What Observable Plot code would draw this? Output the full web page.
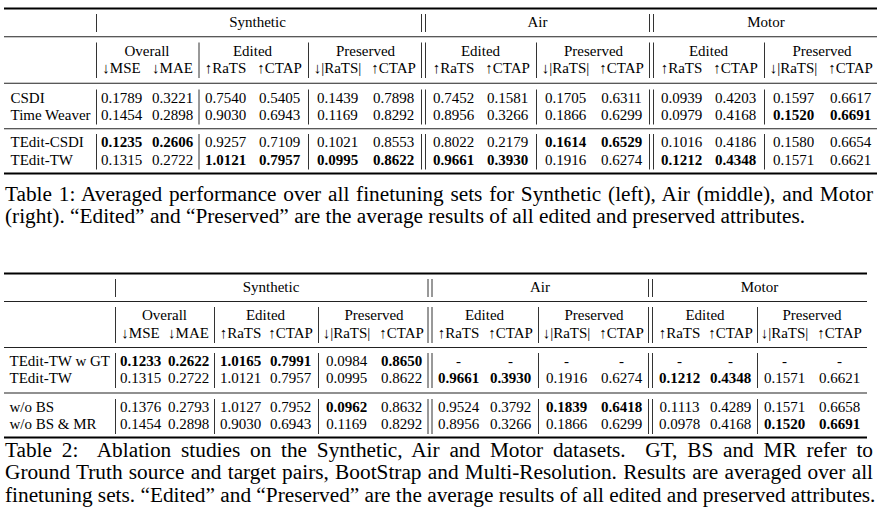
<!DOCTYPE html>
<html>
<head>
<meta charset="utf-8">
<script src="https://cdn.jsdelivr.net/npm/d3@7"></script>
<script src="https://cdn.jsdelivr.net/npm/@observablehq/plot@0.6"></script>
<style>
  html, body { margin: 0; padding: 0; background: #fff; }
  #page { position: relative; width: 881px; height: 513px; overflow: hidden; background: #fff;
          font-family: 'Liberation Serif', 'Times New Roman', serif; color: #000; }
  .tbl { position: absolute; left: 0; }
  .cap { position: absolute; left: 5px; font-size: 21.3px; line-height: 22px; height: 22px; white-space: pre; }
</style>
</head>
<body>
<div id="page"></div>
<script>
// ===================== DATA =====================
const datasets = ["Synthetic", "Air", "Motor"];
const groupsByDataset = [["Overall", "Edited", "Preserved"], ["Edited", "Preserved"], ["Edited", "Preserved"]];
const metricsOverall = ["↓MSE", "↓MAE"];
const metricsEdited = ["↑RaTS", "↑CTAP"];
const metricsPreserved = ["↓|RaTS|", "↑CTAP"];

const t1Methods = ["CSDI", "Time Weaver", "TEdit-CSDI", "TEdit-TW"];
const t1BlockSizes = [2, 2];
const t1CSDI       = [0.1789, 0.3221, 0.7540, 0.5405, 0.1439, 0.7898, 0.7452, 0.1581, 0.1705, 0.6311, 0.0939, 0.4203, 0.1597, 0.6617];
const t1TimeWeaver = [0.1454, 0.2898, 0.9030, 0.6943, 0.1169, 0.8292, 0.8956, 0.3266, 0.1866, 0.6299, 0.0979, 0.4168, 0.1520, 0.6691];
const t1TEditCSDI  = [0.1235, 0.2606, 0.9257, 0.7109, 0.1021, 0.8553, 0.8022, 0.2179, 0.1614, 0.6529, 0.1016, 0.4186, 0.1580, 0.6654];
const t1TEditTW    = [0.1315, 0.2722, 1.0121, 0.7957, 0.0995, 0.8622, 0.9661, 0.3930, 0.1916, 0.6274, 0.1212, 0.4348, 0.1571, 0.6621];

const t2Methods = ["TEdit-TW w GT", "TEdit-TW", "w/o BS", "w/o BS & MR"];
const t2BlockSizes = [2, 2];
const t2WithGT   = [0.1233, 0.2622, 1.0165, 0.7991, 0.0984, 0.8650, null, null, null, null, null, null, null, null];
const t2TEditTW  = [0.1315, 0.2722, 1.0121, 0.7957, 0.0995, 0.8622, 0.9661, 0.3930, 0.1916, 0.6274, 0.1212, 0.4348, 0.1571, 0.6621];
const t2NoBS     = [0.1376, 0.2793, 1.0127, 0.7952, 0.0962, 0.8632, 0.9524, 0.3792, 0.1839, 0.6418, 0.1113, 0.4289, 0.1571, 0.6658];
const t2NoBSMR   = [0.1454, 0.2898, 0.9030, 0.6943, 0.1169, 0.8292, 0.8956, 0.3266, 0.1866, 0.6299, 0.0978, 0.4168, 0.1520, 0.6691];

const caption1 = [
  "Table 1: Averaged performance over all finetuning sets for Synthetic (left), Air (middle), and Motor",
  "(right). “Edited” and “Preserved” are the average results of all edited and preserved attributes."
];
const caption2 = [
  "Table 2:  Ablation studies on the Synthetic, Air and Motor datasets.  GT, BS and MR refer to",
  "Ground Truth source and target pairs, BootStrap and Multi-Resolution. Results are averaged over all",
  "finetuning sets. “Edited” and “Preserved” are the average results of all edited and preserved attributes."
];

// ===================== LAYOUT (scale ranges) =====================
const xDomain = [-1, -0.5, 0, 1, 2, 3, 4, 5, 6, 7, 8, 9, 10, 11, 12, 13];
const t1XRange = [10, 96, 121, 172, 225, 279, 337, 393, 453, 507, 565, 621, 681, 735, 793, 850];
const t2XRange = [9, 115, 140, 188, 240, 290, 346, 401, 458, 510, 566, 621, 679, 730, 784, 839];
const yDomain = [-0.5, 0, 1, 2, 3, 4, 5, 6, 6.5];
const t1YRange = [8, 22, 50.5, 68, 97.5, 114.5, 142, 159.5, 173];
const t2YRange = [8, 22, 50, 68, 96, 113, 142, 159, 172];
const t2Top = 265;
const captionWidth = 868;
const caption1Baselines = [201, 223];
const caption2Baselines = [457, 479, 502];

// ===================== BUILD =====================
const metricsOf = {Overall: metricsOverall, Edited: metricsEdited, Preserved: metricsPreserved};
const columns = [];
datasets.forEach((ds, di) => groupsByDataset[di].forEach(g => metricsOf[g].forEach(m => {
  columns.push({dataset: ds, group: g, metric: m, better: m.startsWith("↓") ? "min" : "max"});
})));

function buildTable({methods, rows, blockSizes, xRange, yRange, marginRight}) {
  const xs = d3.scaleLinear(xDomain, xRange);
  const midIndex = (a, b) => xs.invert((xs(a) + xs(b)) / 2);
  const dsTitles = datasets.map(ds => {
    const idx = columns.map((c, i) => c.dataset === ds ? i : -1).filter(i => i >= 0);
    return {text: ds, x: midIndex(idx[0], idx[idx.length - 1]), y: 0};
  });
  const grpTitles = [];
  columns.forEach((c, i) => {
    if (i === 0 || columns[i - 1].group !== c.group || columns[i - 1].dataset !== c.dataset) {
      let j = i; while (j + 1 < columns.length && columns[j + 1].group === c.group && columns[j + 1].dataset === c.dataset) j++;
      grpTitles.push({text: c.group, x: midIndex(i, j), y: 1});
    }
  });
  const metricTexts = columns.map((c, i) => ({text: c.metric, x: i, y: 2}));
  const best = columns.map((c, ci) => {
    const vals = rows.map(r => r[ci]).filter(v => v != null);
    return c.better === "min" ? d3.min(vals) : d3.max(vals);
  });
  const cells = [];
  rows.forEach((r, ri) => r.forEach((v, ci) => {
    cells.push({x: ci, y: 3 + ri, text: v == null ? "-" : v.toFixed(4), bold: v != null && v === best[ci]});
  }));
  const labels = methods.map((m, ri) => ({text: m, x: -1, y: 3 + ri}));
  const blocks = [[0, 0], [1, 2]];
  let start = 3;
  blockSizes.forEach(n => { blocks.push([start, start + n - 1]); start += n; });
  const midRules = blocks.slice(0, -1).map(b => b[1] + 0.5);
  const outerRules = [blocks[0][0] - 0.5, blocks[blocks.length - 1][1] + 0.5];
  const singles = [], doubles = [];
  blocks.forEach(([a, b], bi) => {
    singles.push({x: -0.5, y1: a, y2: b});
    for (let i = 1; i < columns.length; i++) {
      const p = columns[i - 1], c = columns[i];
      if (p.dataset !== c.dataset) doubles.push({x: i - 0.5, y1: a, y2: b});
      else if (p.group !== c.group && bi > 0) singles.push({x: i - 0.5, y1: a, y2: b});
    }
  });
  const vStyle = {x: "x", y1: "y1", y2: "y2", stroke: "#333", strokeWidth: 1, insetTop: -8, insetBottom: -10};
  return Plot.plot({
    width: 881, height: 180,
    marginTop: 0, marginBottom: 0, marginLeft: 4, marginRight,
    x: {type: "linear", domain: xDomain, range: xRange, axis: null},
    y: {type: "linear", domain: yDomain, range: yRange, axis: null},
    style: {fontFamily: "'Liberation Serif', 'Times New Roman', serif", fontSize: "15px", color: "#000", background: "transparent", overflow: "visible"},
    marks: [
      Plot.ruleY(outerRules, {y: d => d, stroke: "#000", strokeWidth: 2}),
      Plot.ruleY(midRules, {y: d => d, stroke: "#222", strokeWidth: 1.2}),
      Plot.ruleX(singles, vStyle),
      Plot.ruleX(doubles, {...vStyle, dx: -2}),
      Plot.ruleX(doubles, {...vStyle, dx: 2}),
      Plot.text(dsTitles, {x: "x", y: "y", text: "text"}),
      Plot.text(grpTitles, {x: "x", y: "y", text: "text"}),
      Plot.text(metricTexts, {x: "x", y: "y", text: "text"}),
      Plot.text(labels, {x: "x", y: "y", text: "text", textAnchor: "start"}),
      Plot.text(cells.filter(d => !d.bold), {x: "x", y: "y", text: "text"}),
      Plot.text(cells.filter(d => d.bold), {x: "x", y: "y", text: "text", fontWeight: "bold"})
    ]
  });
}

const page = document.getElementById("page");
const svg1 = buildTable({methods: t1Methods, rows: [t1CSDI, t1TimeWeaver, t1TEditCSDI, t1TEditTW],
  blockSizes: t1BlockSizes, xRange: t1XRange, yRange: t1YRange, marginRight: 4});
svg1.classList.add("tbl"); svg1.style.top = "0px";
page.appendChild(svg1);
const svg2 = buildTable({methods: t2Methods, rows: [t2WithGT, t2TEditTW, t2NoBS, t2NoBSMR],
  blockSizes: t2BlockSizes, xRange: t2XRange, yRange: t2YRange, marginRight: 14});
svg2.classList.add("tbl"); svg2.style.top = t2Top + "px";
page.appendChild(svg2);

function addCaption(lines, baselines) {
  lines.forEach((t, i) => {
    const d = document.createElement("div");
    d.className = "cap";
    d.textContent = t;
    d.style.top = (baselines[i] - 18.3) + "px";
    page.appendChild(d);
    if (i < lines.length - 1) {
      const w = d.getBoundingClientRect().width;
      const n = (t.match(/ /g) || []).length;
      d.style.wordSpacing = ((captionWidth - w) / n) + "px";
    }
  });
}
addCaption(caption1, caption1Baselines);
addCaption(caption2, caption2Baselines);
</script>
</body>
</html>
